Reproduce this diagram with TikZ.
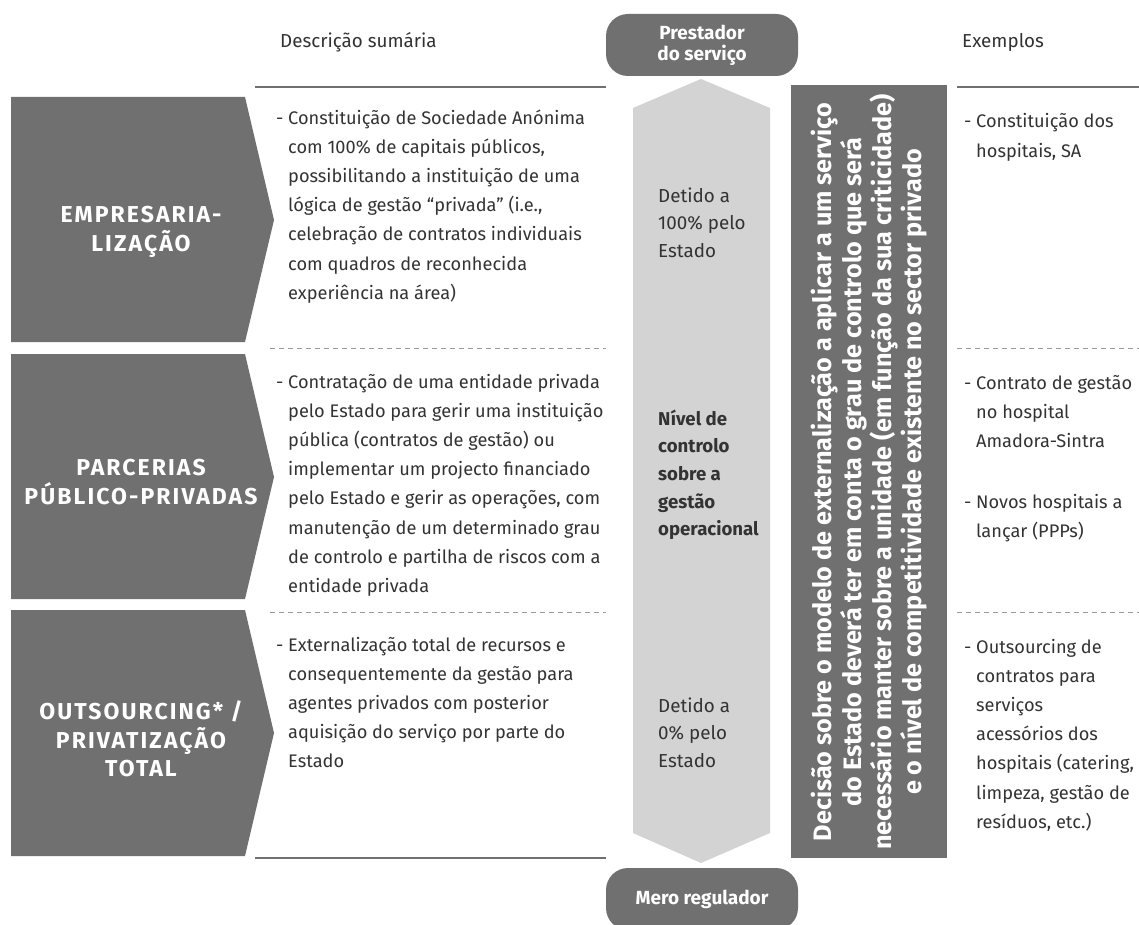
\documentclass[tikz,border=0pt]{standalone}
\usepackage{fontspec}
\setmainfont{Fira Sans}

\definecolor{boxgray}{HTML}{707070}
\definecolor{arrowgray}{HTML}{D3D3D3}
\definecolor{txtgray}{HTML}{333333}
\definecolor{linegray}{HTML}{707070}
\definecolor{dashgray}{HTML}{9A9A9A}

\begin{document}
\begin{tikzpicture}[
    x = 1pt, y = -1pt,
    chev/.style = {fill=boxgray},
    chevtxt/.style = {text=white, align=center, font=\fontsize{23}{28.5}\selectfont\bfseries\addfontfeature{LetterSpace=9}},
    desc/.style = {anchor=base west, inner sep=0pt, align=left, text=txtgray, font=\fontsize{18.2}{29.2}\selectfont},
    midtxt/.style = {desc, font=\fontsize{18.8}{27.7}\selectfont},
    head/.style = {anchor=base west, inner sep=0pt, text=txtgray, font=\fontsize{18.8}{20}\selectfont},
    pill/.style = {fill=boxgray, rounded corners=22pt, minimum width=192pt, minimum height=62pt, inner sep=0pt, text=white, align=center, font=\fontsize{19}{21}\selectfont\bfseries},
    hline/.style = {draw=linegray, line width=1.2pt},
    dline/.style = {draw=dashgray, line width=1pt, dash pattern=on 5pt off 4pt}
    ]

  \useasboundingbox[fill=white] (0,0) rectangle (1139,925);

  % headers
  \node[head] (hdesc) at (280,48) {Descrição sumária} ;
  \node[head] (hex) at (962,48) {Exemplos} ;
  \node[pill] (prest) at (702,45) {Prestador\\do serviço} ;
  \node[pill] (mero) at (702,899) {Mero regulador} ;

  % separators
  \draw[hline] (255,87) -- (606,87) ;
  \draw[hline] (957,87) -- (1139,87) ;
  \draw[hline] (255,858) -- (606,858) ;
  \draw[dline] (270,348) -- (606,348) ;
  \draw[dline] (270,612) -- (606,612) ;
  \draw[dline] (957,348) -- (1139,348) ;
  \draw[dline] (957,612) -- (1139,612) ;

  % left chevrons
  \fill[chev] (11,97) -- (245,97) -- (274,220) -- (245,342) -- (11,342) -- cycle ;
  \fill[chev] (11,354) -- (245,354) -- (274,477) -- (245,599) -- (11,599) -- cycle ;
  \fill[chev] (11,610) -- (245,610) -- (274,733) -- (245,856) -- (11,856) -- cycle ;
  \node[chevtxt] (emp) at (141,232) {EMPRESARIA-\\LIZAÇÃO} ;
  \node[chevtxt] (ppp) at (141,482) {PARCERIAS\\PÚBLICO-PRIVADAS} ;
  \node[chevtxt] (out) at (141,739) {OUTSOURCING* /\\PRIVATIZAÇÃO\\TOTAL} ;

  % descriptions (base = last line)
  \node[desc] (desc1) at (288,299.2) {\llap{- }Constituição de Sociedade Anónima\\com 100\% de capitais públicos,\\possibilitando a instituição de uma\\lógica de gestão “privada” (i.e.,\\celebração de contratos individuais\\com quadros de reconhecida\\experiência na área)} ;
  \node[desc] (desc2) at (288,592.4) {\llap{- }Contratação de uma entidade privada\\pelo Estado para gerir uma instituição\\pública (contratos de gestão) ou\\implementar um projecto financiado\\pelo Estado e gerir as operações, com\\manutenção de um determinado grau\\de controlo e partilha de riscos com a\\entidade privada} ;
  \node[desc] (desc3) at (288,767.8) {\llap{- }Externalização total de recursos e\\consequentemente da gestão para\\agentes privados com posterior\\aquisição do serviço por parte do\\Estado} ;

  % central arrow
  \fill[arrowgray] (701,79) -- (770,108) -- (770,833) -- (701,863) -- (633,833) -- (633,108) -- cycle ;
  \node[midtxt] (det100) at (658,257.4) {Detido a\\100\% pelo\\Estado} ;
  \node[midtxt, font=\fontsize{18.6}{27.7}\selectfont\bfseries] (nivel) at (658,535.8) {Nível de\\controlo\\sobre a\\gestão\\operacional} ;
  \node[midtxt] (det0) at (658,767.4) {Detido a\\0\% pelo\\Estado} ;

  % decision bar
  \fill[boxgray] (791,85) rectangle (947,858) ;
  \node[rotate=90, text=white, align=center, font=\fontsize{25.2}{30}\selectfont\bfseries] (decisao) at (869,472)
    {Decisão sobre o modelo de externalização a aplicar a um serviço\\do Estado deverá ter em conta o grau de controlo que será\\necessário manter sobre a unidade (em função da sua criticidade)\\e o nível de competitividade existente no sector privado} ;

  % examples
  \node[desc] (ex1) at (976,157.2) {\llap{- }Constituição dos\\hospitais, SA} ;
  \node[desc] (ex2a) at (976,447.4) {\llap{- }Contrato de gestão\\no hospital\\Amadora-Sintra} ;
  \node[desc] (ex2b) at (976,537.2) {\llap{- }Novos hospitais a\\lançar (PPPs)} ;
  \node[desc] (ex3) at (976,828.2) {\llap{- }Outsourcing de\\contratos para\\serviços\\acessórios dos\\hospitais (catering,\\limpeza, gestão de\\resíduos, etc.)} ;
\end{tikzpicture}
\end{document}
